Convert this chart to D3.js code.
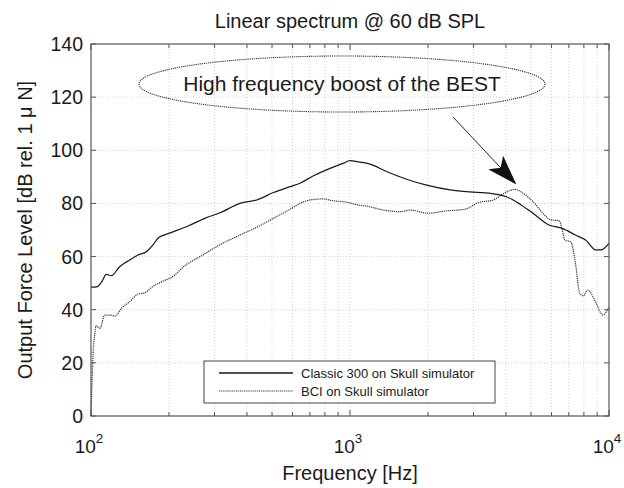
<!DOCTYPE html>
<html>
<head>
<meta charset="utf-8">
<script src="https://cdn.jsdelivr.net/npm/d3@7"></script>
<style>
body{margin:0;background:#fff;}
svg{font-family:"Liberation Sans",Arial,sans-serif;}
</style>
</head>
<body>
<div id="chart"></div>
<script>
// Classic 300 on skull simulator
var classicFreq=[100,105,110,114.6,119.8,129,139,152,163.5,173.5,182.5,201,237,275,315,376,436,506,587,641,720,837,942,1000,1077,1195,1383,1653,1976,2436,2815,3178,3575,4021,4522,5087,5870,6600,7420,8120,8900,9300,10000];
var classicLevel=[48.5,48.6,50.5,53.3,52.8,56.2,58.3,60.6,61.8,64.4,67.2,68.8,71.5,74.4,76.5,80.0,81.3,84.1,86.3,87.6,90.3,93.2,95.1,96.1,95.6,94.8,92.0,89.1,86.9,85.1,84.4,84.1,83.6,82.5,79.8,76.3,71.9,70.6,68.1,66.2,62.5,62.5,65];

// BCI on skull simulator
var bciFreq=[100,101,102,103.5,104.5,108.3,113,118,124,131,141,152,161.6,171.5,190,205,230,266,315,376,436,506,587,641,702,788,862,968,1077,1160,1347,1565,1711,2005,2364,2780,3130,3575,3930,4330,4660,5087,5560,5960,6420,6600,6750,7110,7420,7710,7950,8280,8870,9460,10000];
var bciLevel=[0,14,24,31,34,33,38,38,37.6,40.5,43,45.9,46.4,48.4,50.8,52.2,56.5,60.2,64.5,68.1,71.0,74.4,77.8,80.0,81.3,81.7,81.0,80.5,79.4,79.0,77.5,76.9,77.5,76.3,77.2,77.8,80.3,81.3,83.8,85.3,83.8,80.7,76.3,73.8,73.5,70.0,66.2,65.6,57.5,46.2,45.2,47.4,43.0,38.0,41];

var yTicks=[0,20,40,60,80,100,120,140];
var decades=[2,3,4];
var legendNames=["Classic 300 on Skull simulator","BCI on Skull simulator"];

var W=624,H=488;
var margin={left:91,right:15,top:44,bottom:72};
var svg=d3.select("#chart").append("svg").attr("width",W).attr("height",H);

var x=d3.scaleLog().domain([100,10000]).range([margin.left,W-margin.right]);
var y=d3.scaleLinear().domain([0,140]).range([H-margin.bottom,margin.top]);

// minor log ticks
var xGrid=[];
[100,1000].forEach(function(b){
    for(var k=1;k<10;k++){ xGrid.push(b*k); }
});
xGrid.push(10000);

var gridColor="#c4c4c4";
svg.append("g").selectAll("line").data(xGrid.filter(function(d){return d>100&&d<10000;}))
    .enter().append("line")
    .attr("x1",function(d){return x(d);}).attr("x2",function(d){return x(d);})
    .attr("y1",y(0)).attr("y2",y(140))
    .attr("stroke",gridColor).attr("stroke-width",0.8).attr("stroke-dasharray","1,2");
svg.append("g").selectAll("line").data(yTicks.filter(function(d){return d>0&&d<140;}))
    .enter().append("line")
    .attr("x1",x(100)).attr("x2",x(10000))
    .attr("y1",function(d){return y(d);}).attr("y2",function(d){return y(d);})
    .attr("stroke",gridColor).attr("stroke-width",0.8).attr("stroke-dasharray","1,2");

// ticks inside, all four sides
var axisColor="#555";
var tk=svg.append("g").attr("stroke",axisColor).attr("stroke-width",1);
xGrid.forEach(function(d){
    var len=(Math.abs(Math.log10(d)%1)<1e-9)?6:4;
    tk.append("line").attr("x1",x(d)).attr("x2",x(d)).attr("y1",y(0)).attr("y2",y(0)-len);
    tk.append("line").attr("x1",x(d)).attr("x2",x(d)).attr("y1",y(140)).attr("y2",y(140)+len);
});
yTicks.forEach(function(d){
    tk.append("line").attr("x1",x(100)).attr("x2",x(100)+5).attr("y1",y(d)).attr("y2",y(d));
    tk.append("line").attr("x1",x(10000)).attr("x2",x(10000)-5).attr("y1",y(d)).attr("y2",y(d));
});

// curves
var line=d3.line().curve(d3.curveMonotoneX)
    .x(function(d){return x(d[0]);})
    .y(function(d){return y(d[1]);});
var classic=d3.zip(classicFreq,classicLevel);
var bci=d3.zip(bciFreq,bciLevel);

svg.append("path").datum(bci).attr("d",line)
    .attr("fill","none").attr("stroke","#333").attr("stroke-width",1.2).attr("stroke-dasharray","1.2,0.9");
svg.append("path").datum(classic).attr("d",line)
    .attr("fill","none").attr("stroke","#1a1a1a").attr("stroke-width",1.25);

// frame
svg.append("rect").attr("x",x(100)).attr("y",y(140))
    .attr("width",x(10000)-x(100)).attr("height",y(0)-y(140))
    .attr("fill","none").attr("stroke",axisColor).attr("stroke-width",1.2);

// y tick labels
svg.append("g").selectAll("text").data(yTicks).enter().append("text")
    .attr("x",x(100)-8).attr("y",function(d){return y(d)+7;})
    .attr("text-anchor","end").attr("font-size",19.5).attr("fill","#1a1a1a")
    .text(function(d){return d;});

// x tick labels 10^n
var xl=svg.append("g").selectAll("text").data(decades).enter().append("text")
    .attr("x",function(d){return x(Math.pow(10,d))-2;}).attr("y",y(0)+37)
    .attr("text-anchor","middle").attr("font-size",19).attr("fill","#1a1a1a");
xl.append("tspan").text("10");
xl.append("tspan").attr("dy",-10).attr("font-size",13.5).text(function(d){return d;});

// axis titles
svg.append("text").attr("x",(x(100)+x(10000))/2).attr("y",H-8)
    .attr("text-anchor","middle").attr("font-size",20).attr("fill","#1a1a1a")
    .text("Frequency [Hz]");
svg.append("text").attr("transform","translate(32,"+((y(0)+y(140))/2)+") rotate(-90)")
    .attr("text-anchor","middle").attr("font-size",20).attr("fill","#1a1a1a")
    .text("Output Force Level [dB rel. 1 \u03bc N]");
svg.append("text").attr("x",(x(100)+x(10000))/2).attr("y",28)
    .attr("text-anchor","middle").attr("font-size",20).attr("fill","#1a1a1a")
    .text("Linear spectrum @ 60 dB SPL");

// annotation
svg.append("ellipse").attr("cx",342).attr("cy",84).attr("rx",203).attr("ry",28)
    .attr("fill","none").attr("stroke","#333").attr("stroke-width",1.1).attr("stroke-dasharray","1.2,0.9");
svg.append("text").attr("x",342).attr("y",91).attr("text-anchor","middle")
    .attr("font-size",21).attr("fill","#1a1a1a").text("High frequency boost of the BEST");

var defs=svg.append("defs");
defs.append("marker").attr("id","head").attr("viewBox","0 0 30 20")
    .attr("refX",28).attr("refY",10).attr("markerWidth",30).attr("markerHeight",20)
    .attr("markerUnits","userSpaceOnUse").attr("orient","auto")
    .append("path").attr("d","M0,0 L30,10 L0,20 L7,10 Z").attr("fill","#111");
svg.append("line").attr("x1",453).attr("y1",117).attr("x2",515).attr("y2",183)
    .attr("stroke","#222").attr("stroke-width",1).attr("marker-end","url(#head)");

// legend
var lg=svg.append("g");
lg.append("rect").attr("x",204).attr("y",361).attr("width",291).attr("height",42)
    .attr("fill","#fff").attr("stroke","#444").attr("stroke-width",1);
legendNames.forEach(function(n,i){
    var yy=373+i*18;
    var l=lg.append("line").attr("x1",219).attr("x2",293).attr("y1",yy).attr("y2",yy);
    if(i===0){ l.attr("stroke","#1a1a1a").attr("stroke-width",1.3); }
    else{ l.attr("stroke","#333").attr("stroke-width",1.1).attr("stroke-dasharray","1.2,0.9"); }
    lg.append("text").attr("x",301).attr("y",yy+4.5).attr("font-size",13).attr("fill","#1a1a1a").text(n);
});
</script>
</body>
</html>
